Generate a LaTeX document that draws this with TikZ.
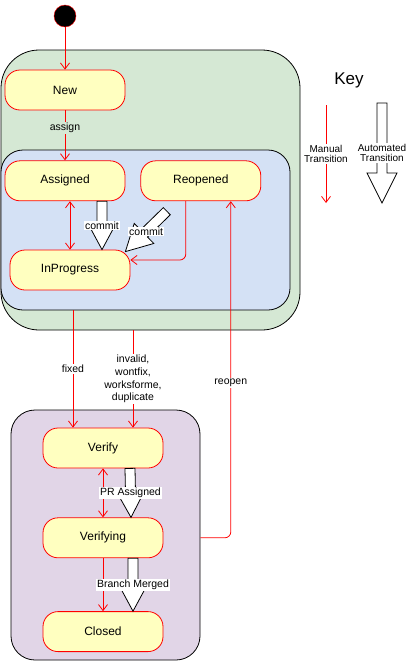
\documentclass[tikz,border=0pt]{standalone}
\usepackage{fontspec}
\setmainfont{Liberation Sans}
\usetikzlibrary{arrows.meta, positioning, calc, shapes}
\definecolor{stateyellow}{HTML}{FFFFC0}
\definecolor{opengreen}{HTML}{D5E8D4}
\definecolor{workblue}{HTML}{D4E1F5}
\definecolor{closepurple}{HTML}{E1D5E7}

% white block arrow with a label on it
\newcommand{\blockarrow}[3]{%
  \draw[autoarrow] ($(#1)!5pt!90:(#2)$)
    -- ($(#2)!26pt!(#1)!5pt!-90:(#1)$)
    -- ($(#2)!26pt!(#1)!14pt!-90:(#1)$)
    -- (#2)
    -- ($(#2)!26pt!(#1)!14pt!90:(#1)$)
    -- ($(#2)!26pt!(#1)!5pt!90:(#1)$)
    -- ($(#1)!5pt!-90:(#2)$) -- cycle;
  \node[trlabel] at ($(#1)!0.5!(#2)$) {#3};}

\begin{document}
\begin{tikzpicture}[
    x=1pt, y=-1pt,
    group/.style={rectangle, draw=black, line width=0.8pt},
    state/.style={rectangle, draw=red, line width=0.8pt, fill=stateyellow, rounded corners=15pt, minimum width=120pt, minimum height=40pt, font=\fontsize{12}{14}\selectfont},
    manual/.style={draw=red, line width=0.8pt, -{Straight Barb[length=6pt, width=9pt]}},
    manualboth/.style={manual, {Straight Barb[length=6pt, width=9pt]}-{Straight Barb[length=6pt, width=9pt]}},
    autoarrow/.style={draw=black, fill=white, line width=0.8pt, line join=miter},
    trlabel/.style={fill=white, inner sep=1pt, align=center, font=\fontsize{10.5}{12.8}\selectfont},
    keylabel/.style={fill=white, inner sep=1pt, align=center, font=\fontsize{10}{10.8}\selectfont}
]
\useasboundingbox (0,0) rectangle (410,664);

% containers
\node[group, fill=opengreen, rounded corners=38pt, minimum width=299pt, minimum height=280pt] (open) at (150.5,190) {};
\node[group, fill=workblue, rounded corners=22pt, minimum width=289pt, minimum height=160pt] (work) at (145.5,230) {};
\node[group, fill=closepurple, rounded corners=24pt, minimum width=189pt, minimum height=250pt] (done) at (105.5,535) {};

% states
\node[circle, draw=red, fill=black, minimum size=22pt, inner sep=0pt] (init) at (65,16) {};
\node[state] (new) at (65,90) {New};
\node[state, below=50pt of new] (assigned) {Assigned};
\node[state, right=15pt of assigned] (reopened) {Reopened};
\node[state] (inprogress) at (70,270) {InProgress};
\node[state] (verify) at (103,448) {Verify};
\node[state, below=49pt of verify] (verifying) {Verifying};
\node[state, below=53pt of verifying] (closed) {Closed};

% manual transitions
\draw[manual] (init) -- (new);
\draw[manual] (new) -- node[trlabel, fill=opengreen, pos=0.35] {assign} (assigned);
\draw[manualboth] (assigned.south -| inprogress.north) -- (inprogress.north);
\draw[manual, rounded corners=6pt] ([xshift=-15pt]reopened.south) |- ([yshift=10pt]inprogress.east);
\draw[manual] ([xshift=-30pt]verify.north |- work.south) -- node[trlabel] {fixed} ([xshift=-30pt]verify.north);
\draw[manual] ([xshift=30pt]verify.north |- open.south) -- node[trlabel] {invalid,\\wontfix,\\worksforme,\\duplicate} ([xshift=30pt]verify.north);
\draw[manual, rounded corners=6pt] (done.east |- verifying) -| node[trlabel, pos=0.73] {reopen} ([xshift=30pt]reopened.south);
\draw[manualboth] (verify) -- (verifying);
\draw[manual] (verifying) -- (closed);

% automated transitions
\coordinate (c1a) at ([xshift=37pt]assigned.south);
\coordinate (c1b) at ([xshift=32pt]inprogress.north);
\coordinate (c2a) at ([xshift=-34pt, yshift=-10pt]reopened.south);
\coordinate (c2b) at ([xshift=-5pt, yshift=-2pt]inprogress.north east);
\coordinate (pra) at ([xshift=27pt]verify.south);
\coordinate (prb) at ([xshift=28pt]verifying.north);
\coordinate (bma) at ([xshift=30pt]verifying.south);
\coordinate (bmb) at ([xshift=30pt]closed.north);
\blockarrow{c1a}{c1b}{commit}
\blockarrow{c2a}{c2b}{commit}
\blockarrow{pra}{prb}{PR Assigned}
\blockarrow{bma}{bmb}{Branch Merged}

% key
\node[font=\fontsize{17}{20}\selectfont] (key) at (349,80) {Key};
\coordinate (mka) at (326,105);
\coordinate (mkb) at (326,203);
\draw[manual] (mka) -- node[keylabel] {Manual\\Transition} (mkb);
\coordinate (aka) at (382,103);
\coordinate (akb) at (382,203);
\draw[autoarrow] ($(aka)!5pt!90:(akb)$)
    -- ($(akb)!30pt!(aka)!5pt!-90:(aka)$)
    -- ($(akb)!30pt!(aka)!15pt!-90:(aka)$)
    -- (akb)
    -- ($(akb)!30pt!(aka)!15pt!90:(aka)$)
    -- ($(akb)!30pt!(aka)!5pt!90:(aka)$)
    -- ($(aka)!5pt!-90:(akb)$) -- cycle;
\node[keylabel] at ($(aka)!0.5!(akb)$) {Automated\\Transition};
\end{tikzpicture}
\end{document}
